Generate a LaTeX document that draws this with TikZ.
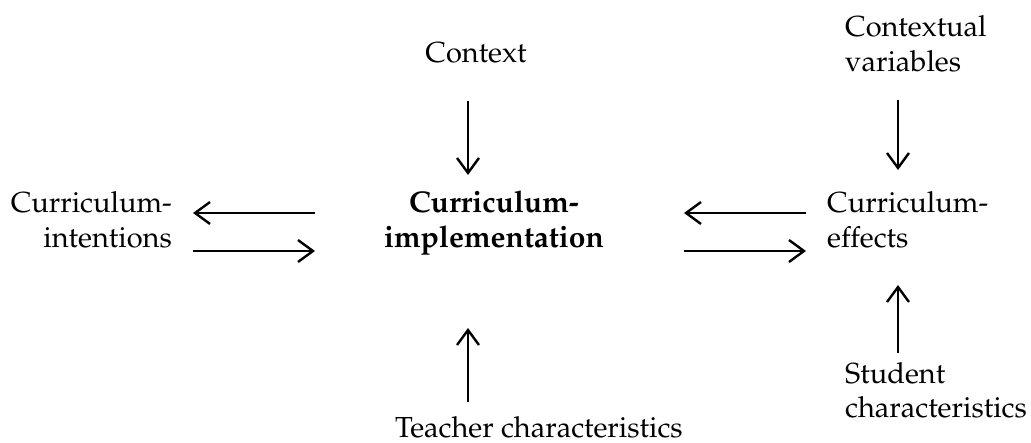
\documentclass[tikz,border=0pt]{standalone}
\usepackage[T1]{fontenc}
\usepackage{mathpazo}
\usetikzlibrary{arrows.meta}
\begin{document}
\begin{tikzpicture}[x=1pt,y=-1pt,
  lbl/.style={inner sep=0pt,font=\fontsize{29}{35}\selectfont},
  arr/.style={line width=2.4pt,-{Straight Barb[length=15pt,width=22pt]}}]
\useasboundingbox (0,0) rectangle (1031,443);
\node[lbl,anchor=base] (ctx) at (476,63) {Context};
\node[lbl,anchor=base west,align=left] (cv) at (845,72) {Contextual\\variables};
\node[lbl,anchor=base east,align=right] (ci) at (172,248) {Curriculum-\\intentions};
\node[lbl,anchor=base,align=center,font=\fontsize{30}{35}\selectfont\bfseries] (impl) at (494,248) {Curriculum-\\implementation};
\node[lbl,anchor=base west,align=left] (ce) at (827,248) {Curriculum-\\effects};
\node[lbl,anchor=base west] (tc) at (395,438) {Teacher characteristics};
\node[lbl,anchor=base west,align=left] (sc) at (845,418) {Student\\characteristics};
% connector end points
\coordinate (ctxA) at (468,101); \coordinate (ctxB) at (468,175);
\coordinate (cvA) at (898,100);  \coordinate (cvB) at (898,170);
\coordinate (scA) at (898,353);  \coordinate (scB) at (898,285);
\coordinate (tcA) at (468,402);  \coordinate (tcB) at (468,328);
\coordinate (l1A) at (315,213);  \coordinate (l1B) at (193,213);
\coordinate (l2A) at (193,251);  \coordinate (l2B) at (315,251);
\coordinate (r1A) at (806,213);  \coordinate (r1B) at (684,213);
\coordinate (r2A) at (684,251);  \coordinate (r2B) at (806,251);
\draw[arr] (ctxA) -- (ctxB);
\draw[arr] (cvA) -- (cvB);
\draw[arr] (scA) -- (scB);
\draw[arr] (tcA) -- (tcB);
\draw[arr] (l1A) -- (l1B);
\draw[arr] (l2A) -- (l2B);
\draw[arr] (r1A) -- (r1B);
\draw[arr] (r2A) -- (r2B);
\end{tikzpicture}
\end{document}
